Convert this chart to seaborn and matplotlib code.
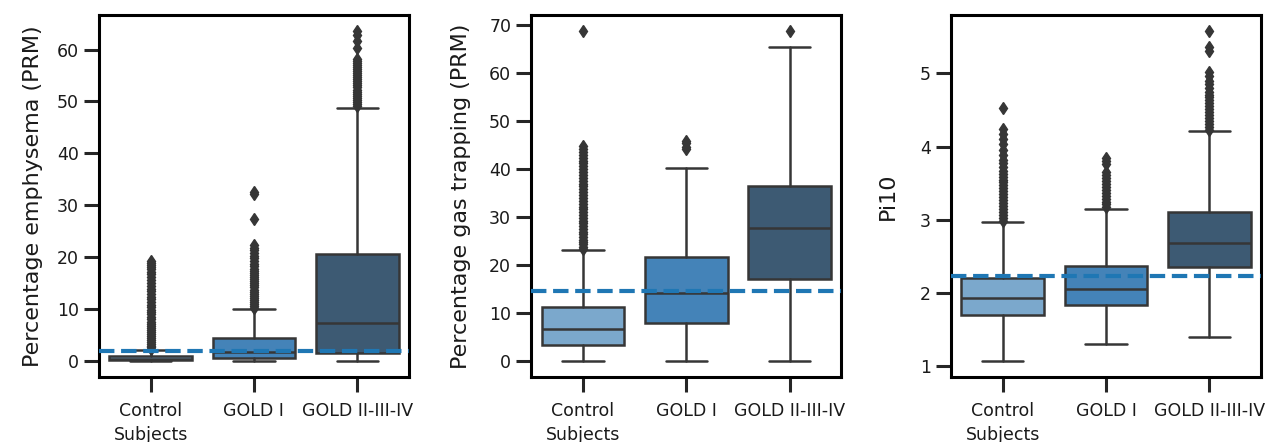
import matplotlib
matplotlib.use("Agg")
import matplotlib.pyplot as plt
import seaborn as sns

# groups on the x axis
groups = ["Control\nSubjects", "GOLD I", "GOLD II-III-IV"]
box_colors = ["#7ba8cc", "#4483b8", "#3d5a73"]

# percentage emphysema (PRM): whisker low, q1, median, q3, whisker high
emph_whislo = [0.0, 0.0, 0.0]
emph_q1 = [0.1, 0.45, 1.5]
emph_med = [0.35, 1.6, 7.3]
emph_q3 = [0.95, 4.3, 20.5]
emph_whishi = [2.1, 9.9, 48.7]
emph_fliers = [
    [2.3, 2.6, 2.9, 3.2, 3.6, 3.9, 4.3, 4.7, 5.1, 5.5, 5.9, 6.3, 6.7, 7.1,
     7.5, 8.0, 8.4, 8.9, 9.3, 9.8, 10.3, 10.8, 11.3, 11.8, 12.3, 12.8,
     13.4, 13.9, 14.4, 15.0, 15.5, 16.1, 16.7, 17.1, 17.6, 18.1, 18.5,
     18.9, 19.3],
    [10.1, 10.5, 10.9, 11.3, 11.7, 12.1, 12.5, 12.9, 13.3, 13.7, 14.1,
     14.5, 14.9, 15.3, 15.7, 16.1, 16.5, 16.9, 17.3, 17.7, 18.2, 18.7,
     19.2, 19.7, 20.2, 20.7, 21.3, 21.8, 22.3, 27.3, 32.2, 32.6],
    [49.1, 49.5, 49.9, 50.3, 50.7, 51.1, 51.5, 51.9, 52.3, 52.7, 53.1,
     53.5, 53.9, 54.3, 54.7, 55.1, 55.5, 55.9, 56.3, 56.7, 57.1, 57.5,
     57.9, 58.2, 60.3, 61.6, 62.8, 63.5],
]
emph_threshold = 1.8

# percentage gas trapping (PRM)
gas_whislo = [0.0, 0.0, 0.0]
gas_q1 = [3.3, 7.9, 16.9]
gas_med = [6.6, 14.0, 27.6]
gas_q3 = [11.2, 21.5, 36.4]
gas_whishi = [23.0, 40.1, 65.4]
gas_fliers = [
    [23.2, 23.7, 24.2, 24.7, 25.2, 25.8, 26.3, 26.9, 27.4, 28.0, 28.6,
     29.1, 29.7, 30.3, 30.9, 31.5, 32.1, 32.7, 33.3, 33.9, 34.5, 35.1,
     35.7, 36.3, 36.9, 37.5, 38.1, 38.7, 39.3, 39.9, 40.5, 41.1, 41.7,
     42.3, 42.9, 43.5, 44.1, 44.7, 68.6],
    [44.1, 44.5, 45.4, 45.8],
    [68.6],
]
gas_threshold = 14.6

# Pi10
pi_whislo = [1.08, 1.31, 1.40]
pi_q1 = [1.70, 1.84, 2.36]
pi_med = [1.93, 2.06, 2.68]
pi_q3 = [2.21, 2.37, 3.11]
pi_whishi = [2.97, 3.15, 4.21]
pi_fliers = [
    [2.99, 3.03, 3.07, 3.11, 3.15, 3.19, 3.23, 3.27, 3.31, 3.35, 3.39,
     3.43, 3.47, 3.51, 3.55, 3.59, 3.63, 3.67, 3.72, 3.77, 3.82, 3.88,
     3.95, 4.03, 4.10, 4.17, 4.24, 4.53],
    [3.17, 3.21, 3.25, 3.29, 3.33, 3.37, 3.41, 3.45, 3.49, 3.53, 3.57,
     3.61, 3.65, 3.76, 3.80, 3.84],
    [4.23, 4.27, 4.31, 4.35, 4.39, 4.43, 4.47, 4.51, 4.55, 4.59, 4.63,
     4.67, 4.71, 4.75, 4.80, 4.85, 4.90, 4.96, 5.02, 5.30, 5.36, 5.57],
]
pi_threshold = 2.24

panels = [
    ("Percentage emphysema (PRM)", emph_whislo, emph_q1, emph_med, emph_q3,
     emph_whishi, emph_fliers, emph_threshold),
    ("Percentage gas trapping (PRM)", gas_whislo, gas_q1, gas_med, gas_q3,
     gas_whishi, gas_fliers, gas_threshold),
    ("Pi10", pi_whislo, pi_q1, pi_med, pi_q3, pi_whishi, pi_fliers,
     pi_threshold),
]

sns.set_theme(style="ticks")
plt.rcParams.update({
    "font.family": ["DejaVu Sans"],
    "axes.linewidth": 2.2,
    "xtick.major.size": 11,
    "ytick.major.size": 11,
    "xtick.major.width": 2.2,
    "ytick.major.width": 2.2,
    "xtick.labelsize": 12.5,
    "ytick.labelsize": 12.5,
    "axes.labelsize": 16,
    "axes.edgecolor": "black",
    "text.color": "#1a1a1a",
    "xtick.labelcolor": "#1a1a1a",
    "ytick.labelcolor": "#1a1a1a",
    "axes.labelcolor": "#1a1a1a",
})

fig = plt.figure(figsize=(12.68, 4.42), dpi=100)
lefts = [0.078, 0.419, 0.750]
label_x = [-0.181, -0.194, -0.171]
line_col = "#363636"

for i, (ylabel, lo, q1, med, q3, hi, fl, thr) in enumerate(panels):
    ax = fig.add_axes([lefts[i], 0.147, 0.2445, 0.819])
    stats = [
        dict(label=groups[j], whislo=lo[j], q1=q1[j], med=med[j], q3=q3[j],
             whishi=hi[j], fliers=fl[j])
        for j in range(len(groups))
    ]
    bp = ax.bxp(
        stats, positions=range(len(groups)), widths=0.8, capwidths=0.4,
        patch_artist=True,
        boxprops=dict(edgecolor=line_col, linewidth=1.8),
        medianprops=dict(color=line_col, linewidth=1.8),
        whiskerprops=dict(color=line_col, linewidth=1.8),
        capprops=dict(color=line_col, linewidth=1.8),
        flierprops=dict(marker="d", markersize=6.5, markerfacecolor=line_col,
                        markeredgecolor=line_col, linestyle="none"),
    )
    for patch, c in zip(bp["boxes"], box_colors):
        patch.set_facecolor(c)
    ax.axhline(thr, color="#1f77b4", linestyle="--", linewidth=3, zorder=5)
    ax.set_xlim(-0.5, len(groups) - 0.5)
    ax.set_xticks(range(len(groups)))
    ax.set_xticklabels(groups)
    for t in ax.get_xticklabels():
        t.set_linespacing(1.45)
    ax.tick_params(axis="x", pad=7)
    ax.set_ylabel(ylabel)
    ax.yaxis.set_label_coords(label_x[i], 0.5)
    for s in ax.spines.values():
        s.set_visible(True)

fig.savefig("out.png", dpi=100)
